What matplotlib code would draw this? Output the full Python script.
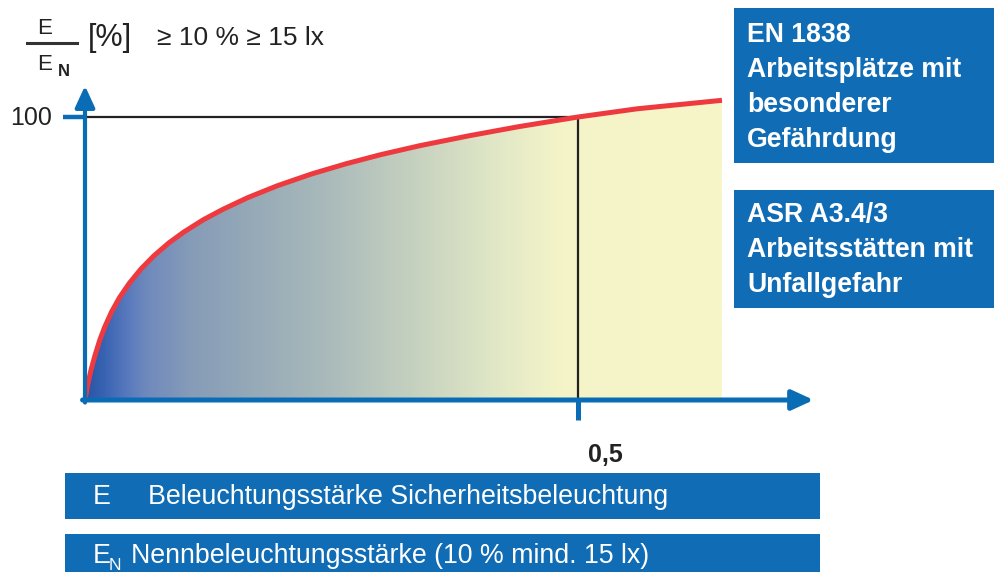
import numpy as np
import matplotlib
matplotlib.use("Agg")
import matplotlib.pyplot as plt
from matplotlib.colors import LinearSegmentedColormap
from matplotlib.patches import Rectangle

plt.rcParams["font.family"] = ["Liberation Sans", "DejaVu Sans"]

curve_x = [0, 0.001, 0.003, 0.006, 0.010, 0.015, 0.020, 0.027, 0.035, 0.045,
           0.057, 0.070, 0.085, 0.100, 0.120, 0.140, 0.165, 0.195, 0.230,
           0.265, 0.300, 0.340, 0.390, 0.440, 0.500, 0.560, 0.646]
curve_y = [0, 2.1, 5.8, 10.5, 15.6, 21.2, 25.8, 31.2, 36.2, 41.3,
           46.4, 51.0, 55.5, 59.3, 63.7, 67.4, 71.5, 75.7, 79.9,
           83.5, 86.7, 89.9, 93.4, 96.6, 100, 102.9, 105.9]

ref_x = 0.5      # Markierung "0,5"
ref_y = 100      # Markierung "100"
x_label = "0,5"
y_label = "100"

box_right = [["EN 1838", "Arbeitsplätze mit", "besonderer", "Gefährdung"],
             ["ASR A3.4/3", "Arbeitsstätten mit", "Unfallgefahr"]]

BLUE = "#0b6cb6"
BOX = "#106cb4"
RED = "#ee3a3f"
DARK = "#222222"

W, H = 995, 572
fig = plt.figure(figsize=(W / 100, H / 100), dpi=100)
ax = fig.add_axes([0, 0, 1, 1])
# Skalierung: x=0 bei 85 px, 986 px je Einheit; y=0 bei 400 px, 2.83 px je %
ax.set_xlim(-85 / 986, (W - 85) / 986)
ax.set_ylim((400 - H) / 2.83, 400 / 2.83)
ax.axis("off")


def fx(px):
    return px / W


def fy(py):
    return 1 - py / H


# Verlaufsfüllung unter der Kurve
stops = [0.0, 0.015, 0.041, 0.061, 0.107, 0.167, 0.249, 0.330, 0.411, 0.482, 0.646]
cols = ["#2b55a5", "#3460b0", "#5778bd", "#6f89bd", "#869cb8", "#95a9b7",
        "#abbbbb", "#c4d0bf", "#dfe6c6", "#f4f4c8", "#f7f6c8"]
cmap = LinearSegmentedColormap.from_list(
    "grad", list(zip([s / stops[-1] for s in stops], cols)))
fill = ax.fill_between(curve_x, curve_y, 0, color="none", lw=0)
grad = np.linspace(0, 1, 512).reshape(1, -1)
img = ax.imshow(grad, cmap=cmap, aspect="auto", interpolation="bilinear",
                extent=(curve_x[0], curve_x[-1], 0, max(curve_y)), zorder=1)
img.set_clip_path(fill.get_paths()[0], transform=ax.transData)

# Hilfslinien bei 100 % und 0,5
ax.plot([0, ref_x, ref_x], [ref_y, ref_y, 0], color=DARK, lw=1.6, zorder=2,
        solid_joinstyle="miter")

# Kurve
ax.plot(curve_x, curve_y, color=RED, lw=3.6, zorder=3, solid_capstyle="butt",
        solid_joinstyle="round")

# Achsen mit Pfeilen
head = "-|>,head_length=1.3,head_width=0.6"
ax.annotate("", xy=(0, 111), xytext=(0, -0.9),
            arrowprops=dict(arrowstyle=head, lw=3.0, color=BLUE,
                            shrinkA=0, shrinkB=0, mutation_scale=10), zorder=4)
ax.annotate("", xy=(0.739, 0), xytext=(-0.0025, 0),
            arrowprops=dict(arrowstyle=head, lw=3.6, color=BLUE,
                            shrinkA=0, shrinkB=0, mutation_scale=10), zorder=4)
ax.plot([-0.0223, 0], [ref_y, ref_y], color=BLUE, lw=3.2, zorder=4,
        solid_capstyle="butt")
ax.plot([ref_x, ref_x], [0, -7.2], color=BLUE, lw=3.6, zorder=4,
        solid_capstyle="butt")

ax.text(-0.033, ref_y - 0.5, y_label, ha="right", va="center", fontsize=18,
        color=DARK)
ax.text(ref_x + 0.0275, -19.5, x_label, ha="center", va="center", fontsize=18,
        fontweight="bold", color=DARK)

# Achsbeschriftung E/EN [%]
fig.text(fx(45), fy(29), "E", ha="center", va="center", fontsize=16, color=DARK)
fig.add_artist(plt.Line2D([fx(27), fx(77)], [fy(43), fy(43)], color="#333333",
                          lw=2.2))
fig.text(fx(45), fy(65), "E", ha="center", va="center", fontsize=16, color=DARK)
fig.text(fx(64), fy(72), "N", ha="center", va="center", fontsize=12,
         fontweight="bold", color=DARK)
fig.text(fx(110), fy(38), "[%]", ha="center", va="center", fontsize=22,
         color=DARK)
fig.text(fx(157), fy(38), "≥ 10 % ≥ 15 lx", ha="left", va="center",
         fontsize=19, color=DARK)

# Kästen rechts
right_boxes = [(8, 163, 41.5), (190, 308, 221.5)]
for (top, bottom, base), lines in zip(right_boxes, box_right):
    fig.add_artist(Rectangle((fx(734), fy(bottom)), fx(W) - fx(734),
                             fy(top) - fy(bottom), facecolor=BOX,
                             edgecolor="none", transform=fig.transFigure))
    for i, line in enumerate(lines):
        fig.text(fx(747), fy(base + i * 35.3), line, ha="left",
                 va="baseline", fontsize=19.2, fontweight="bold", color="white")

# Legende unten
for top, bottom in [(473, 519), (534, 590)]:
    fig.add_artist(Rectangle((fx(65), fy(bottom)), fx(820) - fx(65),
                             fy(top) - fy(bottom), facecolor=BOX,
                             edgecolor="none", transform=fig.transFigure))
fig.text(fx(93), fy(497), "E", ha="left", va="center", fontsize=19.3,
         color="white")
fig.text(fx(148), fy(497), "Beleuchtungsstärke Sicherheitsbeleuchtung",
         ha="left", va="center", fontsize=19.3, color="white")
fig.text(fx(93), fy(556), "E", ha="left", va="center", fontsize=19.3,
         color="white")
fig.text(fx(109), fy(565), "N", ha="left", va="center", fontsize=12.5,
         color="white")
fig.text(fx(131), fy(556), "Nennbeleuchtungsstärke (10 % mind. 15 lx)",
         ha="left", va="center", fontsize=19.3, color="white")

fig.savefig("out.png", dpi=100)
